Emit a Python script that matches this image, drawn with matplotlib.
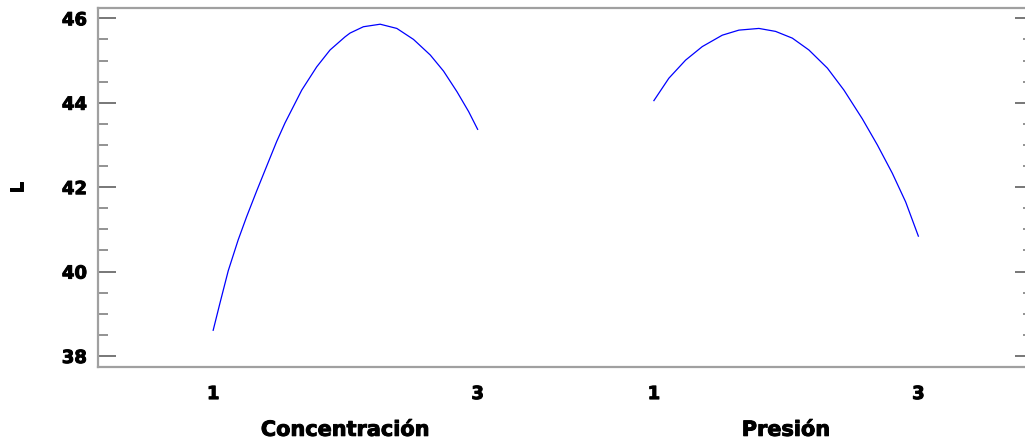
import matplotlib
matplotlib.use("Agg")
import matplotlib.pyplot as plt
import matplotlib.patheffects as pe
from matplotlib.ticker import MultipleLocator

# Data
conc_levels = [1.0, 1.051, 1.114, 1.189, 1.253, 1.329, 1.405, 1.480, 1.543, 1.670,
               1.783, 1.884, 1.997, 2.035, 2.136, 2.263, 2.389, 2.515, 2.642, 2.742,
               2.844, 2.932, 3.0]
conc_L = [38.61, 39.25, 40.02, 40.75, 41.30, 41.91, 42.50, 43.08, 43.52, 44.30,
          44.85, 45.25, 45.56, 45.65, 45.80, 45.86, 45.76, 45.50, 45.13, 44.75,
          44.26, 43.79, 43.37]

pres_levels = [1.0, 1.113, 1.240, 1.366, 1.517, 1.643, 1.794, 1.920, 2.047, 2.172,
               2.312, 2.437, 2.576, 2.690, 2.803, 2.904, 3.0]
pres_L = [44.05, 44.58, 45.01, 45.33, 45.60, 45.72, 45.76, 45.69, 45.53, 45.25,
          44.82, 44.30, 43.62, 43.00, 42.33, 41.65, 40.84]

factor_names = ["Concentración", "Presión"]
level_ticks = [1, 3]
y_label = "L"

# layout
offset = 3.333  # horizontal shift of second factor panel

plt.rcParams['font.family'] = ['DejaVu Sans']
fig = plt.figure(figsize=(10.25, 4.41), dpi=100)
W, H = 1025, 441
ax = fig.add_axes([98 / W, (H - 367) / H, (1033 - 98) / W, (367 - 8) / H])

ax.plot(conc_levels, conc_L, color='#0000ff', lw=0.9)
ax.plot([p + offset for p in pres_levels], pres_L, color='#0000ff', lw=0.9)

ax.set_ylim(37.74, 46.244)
ax.set_xlim(0.129, 7.2)

for s in ax.spines.values():
    s.set_color('#a0a0a0')
    s.set_linewidth(1.6)
ax.spines['right'].set_visible(False)

bold = [pe.withStroke(linewidth=0.7, foreground='black')]

ax.yaxis.set_major_locator(MultipleLocator(2))
ax.yaxis.set_minor_locator(MultipleLocator(0.5))
ax.tick_params(axis='y', which='major', direction='in', length=13, width=1.2,
               color='#606060', left=True, right=True, labelsize=13, pad=8)
ax.tick_params(axis='y', which='minor', direction='in', length=7, width=1.2,
               color='#808080', left=True, right=True)
for lab in ax.get_yticklabels():
    lab.set_fontweight('bold')
    lab.set_path_effects(bold)

xt = [t for t in level_ticks] + [t + offset for t in level_ticks]
ax.set_xticks(xt)
ax.set_xticklabels([str(t) for t in level_ticks] * 2, fontsize=13, fontweight='bold')
for lab in ax.get_xticklabels():
    lab.set_path_effects(bold)
ax.tick_params(axis='x', length=0, pad=13)

centers = [2, 2 + offset]
for c, name in zip(centers, factor_names):
    ax.text(c, -0.175, name, transform=ax.get_xaxis_transform(), ha='center', va='center',
            fontsize=15, fontweight='bold', path_effects=bold)

fig.text(18 / W, 1 - 187 / H, y_label, rotation=90, ha='center', va='center',
         fontsize=13, fontweight='bold', path_effects=bold)

fig.savefig("out.png", dpi=100)
